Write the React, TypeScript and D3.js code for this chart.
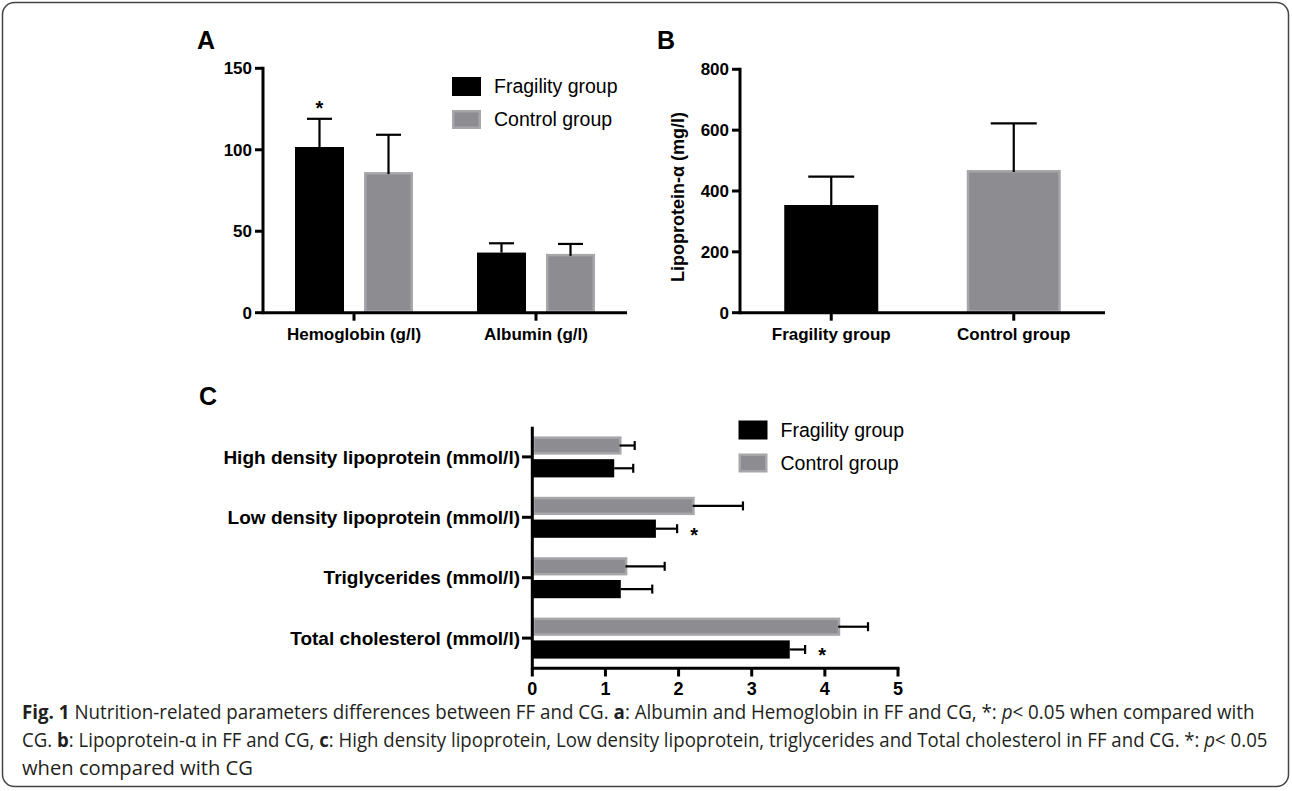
import * as d3 from 'd3';
import { useLayoutEffect, useRef, useState } from 'react';

// Panel A: Hemoglobin / Albumin
const catsA = ['Hemoglobin (g/l)', 'Albumin (g/l)'];
const ffMeanA = [101.7, 36.9];
const ffSdA = [17.3, 5.7];
const cgMeanA = [86.3, 36.1];
const cgSdA = [22.9, 6.1];
const sigA = [true, false];
const ticksA = [0, 50, 100, 150];

// Panel B: Lipoprotein-α
const catsB = ['Fragility group', 'Control group'];
const meanB = [354, 469];
const sdB = [93, 153];
const ticksB = [0, 200, 400, 600, 800];

// Panel C: lipids
const catsC = [
  'High density lipoprotein (mmol/l)',
  'Low density lipoprotein (mmol/l)',
  'Triglycerides (mmol/l)',
  'Total cholesterol (mmol/l)',
];
const ffMeanC = [1.12, 1.69, 1.21, 3.52];
const ffSdC = [0.26, 0.29, 0.43, 0.21];
const cgMeanC = [1.22, 2.22, 1.3, 4.21];
const cgSdC = [0.18, 0.66, 0.51, 0.38];
const sigC = [false, true, false, true];
const ticksC = [0, 1, 2, 3, 4, 5];

const seriesNames = ['Fragility group', 'Control group'];

const FONT = '"Liberation Sans", Arial, Helvetica, sans-serif';
const CAPTION_FONT = '"Open Sans", "Noto Sans", sans-serif';
const BLACK = '#000';
const GRAY = '#8d8c91';
const GRAY_EDGE = '#a7a7aa';

function GrayRect({ x, y, w, h }: { x: number; y: number; w: number; h: number }) {
  return (
    <g>
      <rect x={x} y={y} width={w} height={h} fill={GRAY_EDGE} />
      <rect x={x + 2.5} y={y + 2.5} width={Math.max(0, w - 5)} height={Math.max(0, h - 5)} fill={GRAY} />
    </g>
  );
}

function Legend({ x, y }: { x: number; y: number }) {
  return (
    <g fontFamily={FONT} fontSize={19.5}>
      {seriesNames.map((name, i) => (
        <g key={name} transform={`translate(${x},${y + i * 33})`}>
          {i === 0 ? (
            <rect x={0} y={0} width={29} height={19} fill={BLACK} />
          ) : (
            <GrayRect x={0} y={0} w={29} h={19} />
          )}
          <text x={42} y={16} fill="#000">{name}</text>
        </g>
      ))}
    </g>
  );
}

function PanelA() {
  const y = d3.scaleLinear().domain([0, 150]).range([312.7, 68.3]);
  const x = d3.scalePoint().domain(catsA).range([263, 627]).padding(0.5);
  const inner = d3.scaleBand().domain(['ff', 'cg']).range([-59, 59]).paddingInner(0.29);
  const bw = inner.bandwidth();
  const cap = 12.5;
  return (
    <g fontFamily={FONT} fontWeight="bold">
      <text x={197} y={48.5} fontSize={25}>A</text>
      {catsA.map((c, i) => {
        const cx = x(c)!;
        const fx = cx + inner('ff')!;
        const gx = cx + inner('cg')!;
        const fTop = y(ffMeanA[i]);
        const gTop = y(cgMeanA[i]);
        const fErr = y(ffMeanA[i] + ffSdA[i]);
        const gErr = y(cgMeanA[i] + cgSdA[i]);
        return (
          <g key={c}>
            <rect x={fx} y={fTop} width={bw} height={y(0) - fTop} fill={BLACK} />
            <GrayRect x={gx} y={gTop} w={bw} h={y(0) - gTop} />
            <g stroke="#000" strokeWidth={2.2}>
              <line x1={fx + bw / 2} x2={fx + bw / 2} y1={fTop} y2={fErr} />
              <line x1={fx + bw / 2 - cap} x2={fx + bw / 2 + cap} y1={fErr} y2={fErr} />
              <line x1={gx + bw / 2} x2={gx + bw / 2} y1={gTop + 2} y2={gErr} />
              <line x1={gx + bw / 2 - cap} x2={gx + bw / 2 + cap} y1={gErr} y2={gErr} />
            </g>
            {sigA[i] && (
              <text x={fx + bw / 2} y={fErr - 4} textAnchor="middle" fontSize={20}>*</text>
            )}
            <line x1={cx} x2={cx} y1={y(0)} y2={y(0) + 8} stroke="#000" strokeWidth={3} />
            <text x={cx} y={340} textAnchor="middle" fontSize={17}>{c}</text>
          </g>
        );
      })}
      {ticksA.map((t) => (
        <g key={t}>
          <line x1={255} x2={263} y1={y(t)} y2={y(t)} stroke="#000" strokeWidth={3} />
          <text x={252} y={y(t)} dy="0.35em" textAnchor="end" fontSize={17}>{t}</text>
        </g>
      ))}
      <line x1={263} x2={263} y1={y(150) - 1.5} y2={y(0) + 1.5} stroke="#000" strokeWidth={3} />
      <line x1={263} x2={627} y1={y(0)} y2={y(0)} stroke="#000" strokeWidth={3} />
      <g fontWeight="normal">
        <Legend x={452} y={77} />
      </g>
    </g>
  );
}

function PanelB() {
  const y = d3.scaleLinear().domain([0, 800]).range([312.7, 69.3]);
  const x = d3.scalePoint().domain(catsB).range([740, 1105]).padding(0.5);
  const bw = 94;
  const cap = 23;
  return (
    <g fontFamily={FONT} fontWeight="bold">
      <text x={657} y={48.5} fontSize={25}>B</text>
      {catsB.map((c, i) => {
        const cx = x(c)!;
        const top = y(meanB[i]);
        const err = y(meanB[i] + sdB[i]);
        return (
          <g key={c}>
            {i === 0 ? (
              <rect x={cx - bw / 2} y={top} width={bw} height={y(0) - top} fill={BLACK} />
            ) : (
              <GrayRect x={cx - bw / 2} y={top} w={bw} h={y(0) - top} />
            )}
            <g stroke="#000" strokeWidth={2.2}>
              <line x1={cx} x2={cx} y1={top + 2} y2={err} />
              <line x1={cx - cap} x2={cx + cap} y1={err} y2={err} />
            </g>
            <line x1={cx} x2={cx} y1={y(0)} y2={y(0) + 8} stroke="#000" strokeWidth={3} />
            <text x={cx} y={340} textAnchor="middle" fontSize={17}>{c}</text>
          </g>
        );
      })}
      {ticksB.map((t) => (
        <g key={t}>
          <line x1={732} x2={740} y1={y(t)} y2={y(t)} stroke="#000" strokeWidth={3} />
          <text x={729} y={y(t)} dy="0.35em" textAnchor="end" fontSize={17}>{t}</text>
        </g>
      ))}
      <line x1={740} x2={740} y1={y(800) - 1.5} y2={y(0) + 1.5} stroke="#000" strokeWidth={3} />
      <line x1={740} x2={1105} y1={y(0)} y2={y(0)} stroke="#000" strokeWidth={3} />
      <text
        transform={`translate(684,${(y(0) + y(800)) / 2 + 6}) rotate(-90)`}
        textAnchor="middle"
        fontSize={18}
      >
        Lipoprotein-α (mg/l)
      </text>
    </g>
  );
}

function PanelC() {
  const x = d3.scaleLinear().domain([0, 5]).range([532.3, 898]);
  const y = d3.scaleBand().domain(catsC).range([426.7, 668.3]);
  const inner = d3.scaleBand().domain(['cg', 'ff']).range([-20.5, 20.5]).paddingInner(0.2);
  const bh = inner.bandwidth();
  const cap = 4.5;
  return (
    <g fontFamily={FONT} fontWeight="bold">
      <text x={199} y={405} fontSize={25}>C</text>
      {catsC.map((c, i) => {
        const cy = y(c)! + y.bandwidth() / 2;
        const gy = cy + inner('cg')!;
        const fy = cy + inner('ff')!;
        const gEnd = x(cgMeanC[i]);
        const fEnd = x(ffMeanC[i]);
        const gErr = x(cgMeanC[i] + cgSdC[i]);
        const fErr = x(ffMeanC[i] + ffSdC[i]);
        return (
          <g key={c}>
            <GrayRect x={x(0)} y={gy} w={gEnd - x(0)} h={bh} />
            <rect x={x(0)} y={fy} width={fEnd - x(0)} height={bh} fill={BLACK} />
            <g stroke="#000" strokeWidth={2.2}>
              <line x1={gEnd - 2} x2={gErr} y1={gy + bh / 2} y2={gy + bh / 2} />
              <line x1={gErr} x2={gErr} y1={gy + bh / 2 - cap} y2={gy + bh / 2 + cap} />
              <line x1={fEnd} x2={fErr} y1={fy + bh / 2} y2={fy + bh / 2} />
              <line x1={fErr} x2={fErr} y1={fy + bh / 2 - cap} y2={fy + bh / 2 + cap} />
            </g>
            {sigC[i] && (
              <text x={fErr + 17} y={fy + bh / 2 + 13} textAnchor="middle" fontSize={20}>*</text>
            )}
            <line x1={522} x2={x(0)} y1={cy} y2={cy} stroke="#000" strokeWidth={3} />
            <text x={520} y={cy} dy="0.35em" textAnchor="end" fontSize={19}>{c}</text>
          </g>
        );
      })}
      {ticksC.map((t) => (
        <g key={t}>
          <line x1={x(t)} x2={x(t)} y1={668.3} y2={676.5} stroke="#000" strokeWidth={3} />
          <text x={x(t)} y={695} textAnchor="middle" fontSize={18}>{t}</text>
        </g>
      ))}
      <line x1={x(0)} x2={x(0)} y1={426.7} y2={669.8} stroke="#000" strokeWidth={3} />
      <line x1={x(0)} x2={x(5) + 1.5} y1={668.3} y2={668.3} stroke="#000" strokeWidth={3} />
      <g fontWeight="normal">
        <Legend x={738.5} y={420.5} />
      </g>
    </g>
  );
}

// caption line: scaled horizontally (condensed) to the reference's line width
function CaptionLine({ y, width, children }: { y: number; width: number; children: any }) {
  const ref = useRef<SVGTextElement>(null);
  const [sx, setSx] = useState(1);
  useLayoutEffect(() => {
    if (ref.current) {
      const natural = ref.current.getComputedTextLength();
      if (natural > 0) setSx(width / natural);
    }
  }, [width]);
  return (
    <text ref={ref} transform={`translate(22,${y}) scale(${sx},1)`}>
      {children}
    </text>
  );
}

function Caption() {
  return (
    <g fontFamily={CAPTION_FONT} fontSize={19.5} fill="#231f20">
      <CaptionLine y={719} width={1233}>
        <tspan fontWeight="bold">Fig. 1</tspan> Nutrition-related parameters differences between FF and CG.{' '}
        <tspan fontWeight="bold">a</tspan>: Albumin and Hemoglobin in FF and CG, *: <tspan fontStyle="italic">p</tspan>{'< 0.05 when compared with'}
      </CaptionLine>
      <CaptionLine y={747} width={1246}>
        CG. <tspan fontWeight="bold">b</tspan>: Lipoprotein-α in FF and CG, <tspan fontWeight="bold">c</tspan>: High density lipoprotein, Low density lipoprotein, triglycerides and Total cholesterol in FF and CG. *:{' '}
        <tspan fontStyle="italic">p</tspan>{'< 0.05'}
      </CaptionLine>
      <CaptionLine y={775} width={231}>when compared with CG</CaptionLine>
    </g>
  );
}

export default function App() {
  return (
    <div style={{ position: 'absolute', left: 0, top: 0 }}>
      <svg width={1292} height={791} viewBox="0 0 1292 791" style={{ display: 'block', background: '#fff' }}>
        <rect x={2.5} y={2.5} width={1286} height={784} rx={12} fill="#fff" stroke="#444" strokeWidth={1.5} />
        <PanelA />
        <PanelB />
        <PanelC />
        <Caption />
      </svg>
    </div>
  );
}
